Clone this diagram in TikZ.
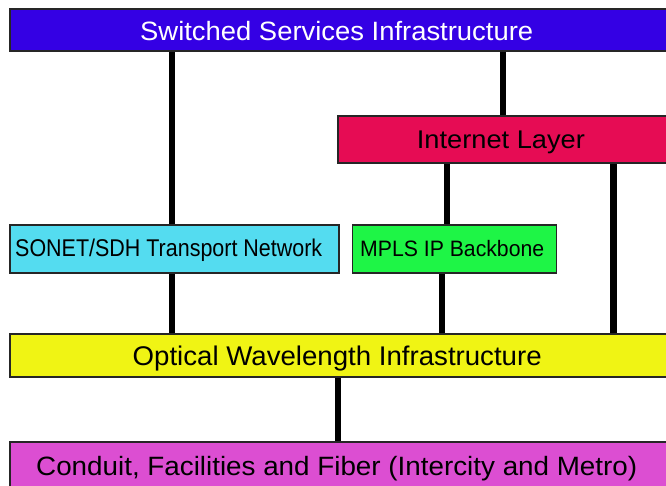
\documentclass[tikz,border=0pt]{standalone}
\usepackage{fontspec}
\setmainfont{Liberation Sans}
\usepackage{graphicx}
\definecolor{cBlue}{RGB}{52,0,228}
\definecolor{cRed}{RGB}{230,12,84}
\definecolor{cCyan}{RGB}{84,220,240}
\definecolor{cGreen}{RGB}{30,245,70}
\definecolor{cYellow}{RGB}{240,244,20}
\definecolor{cMag}{RGB}{220,78,210}
\newcommand\fittext[3]{\resizebox{#1pt}{\height}{\fontsize{#2pt}{#2pt}\selectfont #3}}
\begin{document}
\begin{tikzpicture}[x=1pt,y=-1pt,
  layerbox/.style={draw=black!85,line width=1.1pt,rectangle,inner sep=0pt},
  txt/.style={inner sep=0pt,anchor=base west},
  wire/.style={line width=6.5pt,black,line cap=butt}]
\useasboundingbox (0,0) rectangle (666,485);
\clip (0,0) rectangle (666,485);
% boxes
\node[layerbox,fill=cBlue] (top) at (339,30) [minimum width=658pt,minimum height=42pt] {};
\node[layerbox,fill=cRed] (inet) at (503,139.5) [minimum width=330pt,minimum height=47pt] {};
\node[layerbox,fill=cCyan] (sonet) at (174.5,249) [minimum width=329pt,minimum height=48pt] {};
\node[layerbox,fill=cGreen] (mpls) at (454.7,249) [minimum width=204pt,minimum height=48pt] {};
\node[layerbox,fill=cYellow] (optical) at (339,355.5) [minimum width=658pt,minimum height=43pt] {};
\node[layerbox,fill=cMag] (conduit) at (339,468) [minimum width=658pt,minimum height=52pt] {};
% texts
\node[txt,text=white] (topt) at (140,40) {\fittext{393}{26.5}{Switched Services Infrastructure}};
\node[txt,text=black] (inett) at (416.7,148.5) {\fittext{168}{25.6}{Internet Layer}};
\node[txt,text=black] (sonett) at (15,256) {\fittext{307}{24.2}{SONET/SDH Transport Network}};
\node[txt,text=black] (mplst) at (360,256) {\fittext{184}{22.3}{MPLS IP Backbone}};
\node[txt,text=black] (opticalt) at (132.5,365) {\fittext{409}{27}{Optical Wavelength Infrastructure}};
\node[txt,text=black] (conduitt) at (36,475) {\fittext{601}{26.5}{Conduit, Facilities and Fiber (Intercity and Metro)}};
% connectors
\coordinate (xa) at (172,0);
\coordinate (xb) at (503,0);
\coordinate (xc) at (447,0);
\coordinate (xd) at (613.3,0);
\coordinate (xe) at (442,0);
\coordinate (xf) at (338,0);
\draw[wire] ([yshift=-0.6pt]top.south -| xa) -- ([yshift=0.6pt]sonet.north -| xa);
\draw[wire] ([yshift=-0.6pt]top.south -| xb) -- ([yshift=0.6pt]inet.north -| xb);
\draw[wire] ([yshift=-0.6pt]inet.south -| xc) -- ([yshift=0.6pt]mpls.north -| xc);
\draw[wire] ([yshift=-0.6pt]inet.south -| xd) -- ([yshift=0.6pt]optical.north -| xd);
\draw[wire] ([yshift=-0.6pt]sonet.south -| xa) -- ([yshift=0.6pt]optical.north -| xa);
\draw[wire] ([yshift=-0.6pt]mpls.south -| xe) -- ([yshift=0.6pt]optical.north -| xe);
\draw[wire] ([yshift=-0.6pt]optical.south -| xf) -- ([yshift=0.6pt]conduit.north -| xf);
\end{tikzpicture}
\end{document}
